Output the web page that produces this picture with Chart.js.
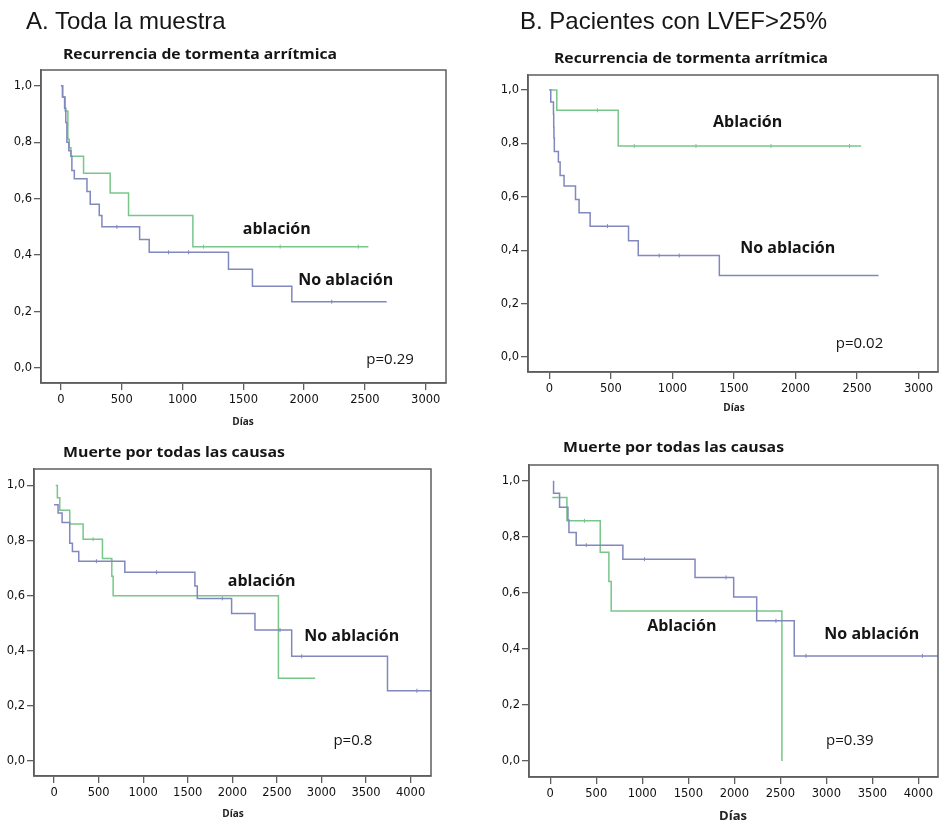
<!DOCTYPE html>
<html><head><meta charset="utf-8">
<script src="https://cdn.jsdelivr.net/npm/chart.js@4.4.1/dist/chart.umd.min.js"></script>
<style>
html,body{margin:0;padding:0;background:#fff;}
#page{position:relative;width:942px;height:822px;overflow:hidden;background:#fff;}
canvas.cv{position:absolute;}
svg#txt{position:absolute;left:0;top:0;pointer-events:none;}
</style></head><body>
<div id="page">
<canvas id="cA1" class="cv" width="471" height="360" style="left:0px;top:60px"></canvas>
<canvas id="cB1" class="cv" width="471" height="360" style="left:471px;top:60px"></canvas>
<canvas id="cA2" class="cv" width="471" height="392" style="left:0px;top:430px"></canvas>
<canvas id="cB2" class="cv" width="471" height="392" style="left:471px;top:430px"></canvas>
<svg id="txt" width="942" height="822" xmlns="http://www.w3.org/2000/svg">
  <g fill="#151515" font-family="'Liberation Sans', Arial, sans-serif" font-size="24">
    <text x="26" y="28.5">A. Toda la muestra</text>
    <text x="520" y="28.5">B. Pacientes con LVEF&gt;25%</text>
  </g>
  <g fill="#151515" font-family="'Open Sans', sans-serif" font-weight="700" font-size="14">
    <text x="63" y="59.3" textLength="274" lengthAdjust="spacingAndGlyphs">Recurrencia de tormenta arrítmica</text>
    <text x="554" y="62.7" textLength="274" lengthAdjust="spacingAndGlyphs">Recurrencia de tormenta arrítmica</text>
    <text x="63" y="457.3" textLength="222" lengthAdjust="spacingAndGlyphs">Muerte por todas las causas</text>
    <text x="563" y="451.7" textLength="221" lengthAdjust="spacingAndGlyphs">Muerte por todas las causas</text>
  </g>
  <g fill="#222" font-family="'Open Sans', sans-serif" font-weight="700" text-anchor="middle">
    <text x="243" y="424.5" font-size="10">Días</text>
    <text x="734" y="410.5" font-size="10">Días</text>
    <text x="233" y="816.5" font-size="10">Días</text>
    <text x="733" y="819.5" font-size="13">Días</text>
  </g>
</svg>
</div>
<script>
// ---------- axis ticks ----------
const yTicks = [0, 0.2, 0.4, 0.6, 0.8, 1.0];
const yTickLabels = ['0,0', '0,2', '0,4', '0,6', '0,8', '1,0'];
const xTicksRec = [0, 500, 1000, 1500, 2000, 2500, 3000];
const xTickLabelsRec = ['0', '500', '1000', '1500', '2000', '2500', '3000'];
const xTicksDeath = [0, 500, 1000, 1500, 2000, 2500, 3000, 3500, 4000];
const xTickLabelsDeath = ['0', '500', '1000', '1500', '2000', '2500', '3000', '3500', '4000'];

// ---------- A: whole sample, recurrence ----------
const a1AblDays = [0, 11, 35, 57, 68, 82, 186, 405, 556, 1085, 2529];
const a1AblSurv = [1.0, 0.96, 0.91, 0.81, 0.78, 0.75, 0.69, 0.62, 0.54, 0.43, 0.43];
const a1NoDays = [0, 15, 30, 40, 49, 65, 82, 90, 110, 214, 241, 315, 337, 647, 726, 1378, 1575, 1899, 2679];
const a1NoSurv = [1.0, 0.96, 0.92, 0.87, 0.80, 0.77, 0.75, 0.70, 0.67, 0.625, 0.58, 0.54, 0.50, 0.455, 0.41, 0.35, 0.29, 0.235, 0.235];
const a1AblCensDays = [1172, 1803, 2446];
const a1AblCensSurv = [0.43, 0.43, 0.43];
const a1NoCensDays = [460, 885, 1050, 2227];
const a1NoCensSurv = [0.50, 0.41, 0.41, 0.235];

// ---------- B: LVEF>25%, recurrence ----------
const b1AblDays = [0, 60, 559, 2533];
const b1AblSurv = [1.0, 0.924, 0.79, 0.79];
const b1NoDays = [0, 11, 33, 35, 37, 40, 73, 87, 119, 212, 241, 331, 643, 722, 1381, 2675];
const b1NoSurv = [1.0, 0.955, 0.91, 0.86, 0.82, 0.77, 0.73, 0.68, 0.64, 0.59, 0.54, 0.49, 0.435, 0.38, 0.305, 0.305];
const b1AblCensDays = [390, 689, 1191, 1801, 2439];
const b1AblCensSurv = [0.924, 0.79, 0.79, 0.79, 0.79];
const b1NoCensDays = [472, 892, 1055];
const b1NoCensSurv = [0.49, 0.38, 0.38];

// ---------- A: whole sample, all-cause death ----------
const a2AblDays = [19, 37, 64, 176, 326, 543, 648, 663, 2517, 2929];
const a2AblSurv = [1.0, 0.955, 0.91, 0.86, 0.805, 0.735, 0.67, 0.60, 0.30, 0.30];
const a2NoDays = [0, 45, 90, 176, 206, 277, 794, 1580, 1607, 1992, 2254, 2666, 3741, 4229];
const a2NoSurv = [0.93, 0.90, 0.865, 0.79, 0.76, 0.725, 0.685, 0.635, 0.59, 0.535, 0.475, 0.38, 0.255, 0.255];
const a2AblCensDays = [438];
const a2AblCensSurv = [0.805];
const a2NoCensDays = [475, 1150, 1888, 2535, 2779, 4071];
const a2NoCensSurv = [0.725, 0.685, 0.59, 0.475, 0.38, 0.255];

// ---------- B: LVEF>25%, all-cause death ----------
const b2AblDays = [22, 181, 543, 637, 662, 2517];
const b2AblSurv = [0.94, 0.857, 0.745, 0.64, 0.535, 0.0];
const b2NoDays = [36, 36, 101, 192, 203, 282, 789, 1573, 1993, 2243, 2651, 4213];
const b2NoSurv = [1.0, 0.955, 0.905, 0.86, 0.815, 0.77, 0.72, 0.655, 0.585, 0.50, 0.375, 0.375];
const b2AblCensDays = [372];
const b2AblCensSurv = [0.857];
const b2NoCensDays = [391, 1024, 1910, 2452, 2778, 4044];
const b2NoCensSurv = [0.77, 0.72, 0.655, 0.50, 0.375, 0.375];

// ---------- styling ----------
const GREEN = '#79c68a';
const BLUE = '#8088bd';
const AXIS = '#5e5e5e';
const TICKFONT = {family: "'DejaVu Sans', Verdana, sans-serif", size: 11.5};

const pts = (d, s) => d.map((v, i) => ({x: v, y: s[i]}));

const frameAndLabels = {
  id: 'frameAndLabels',
  afterDatasetsDraw(chart, args, opts) {
    const {ctx, chartArea: a, scales: {x, y}} = chart;
    ctx.save();
    ctx.strokeStyle = AXIS;
    ctx.lineWidth = 1.5;
    ctx.strokeRect(a.left, a.top, a.right - a.left, a.bottom - a.top);
    ctx.fillStyle = '#151515';
    ctx.textAlign = 'center';
    ctx.textBaseline = 'middle';
    (opts.items || []).forEach(it => {
      ctx.font = it.font;
      ctx.fillText(it.text, x.getPixelForValue(it.x), y.getPixelForValue(it.y));
    });
    ctx.restore();
  }
};

function makeChart(id, s) {
  const lineDs = (label, d, sv, col) => ({
    label, data: pts(d, sv), borderColor: col, borderWidth: 1.5,
    pointRadius: 0, stepped: true, fill: false, tension: 0
  });
  const censDs = (label, d, sv, col) => ({
    label, data: pts(d, sv), borderColor: col, backgroundColor: col, showLine: false,
    pointStyle: 'line', rotation: 90, pointRadius: 2, pointBorderWidth: 1, pointHoverRadius: 0
  });
  return new Chart(document.getElementById(id), {
    type: 'line',
    data: {
      datasets: [
        lineDs('No ablación', s.noD, s.noS, BLUE),
        lineDs('Ablación', s.abD, s.abS, GREEN),
        censDs('No ablación cens.', s.noCD, s.noCS, BLUE),
        censDs('Ablación cens.', s.abCD, s.abCS, GREEN)
      ]
    },
    options: {
      responsive: false,
      animation: false,
      devicePixelRatio: 1,
      layout: {padding: s.pad},
      plugins: {
        legend: {display: false},
        tooltip: {enabled: false},
        frameAndLabels: {items: s.labels}
      },
      scales: {
        x: {
          type: 'linear', min: s.xMin, max: s.xMax,
          afterBuildTicks: sc => { sc.ticks = s.xT.map(v => ({value: v})); },
          afterFit: sc => { sc.height = s.xH; },
          ticks: {autoSkip: false, maxRotation: 0, padding: 3, color: '#111', font: TICKFONT,
                  callback: (v, i) => s.xL[i]},
          grid: {display: true, drawOnChartArea: false, drawTicks: true, tickLength: 7, color: AXIS, lineWidth: 1.3},
          border: {display: true, color: AXIS, width: 1.5}
        },
        y: {
          type: 'linear', min: s.yMin, max: s.yMax,
          afterBuildTicks: sc => { sc.ticks = yTicks.map(v => ({value: v})); },
          afterFit: sc => { sc.width = s.yW; },
          ticks: {autoSkip: false, padding: 2, color: '#111', font: TICKFONT,
                  callback: (v, i) => yTickLabels[i]},
          grid: {display: true, drawOnChartArea: false, drawTicks: true, tickLength: 7, color: AXIS, lineWidth: 1.3},
          border: {display: true, color: AXIS, width: 1.5}
        }
      }
    },
    plugins: [frameAndLabels]
  });
}

const LBL = "700 16px 'Open Sans', sans-serif";
const PV = "400 15px 'Open Sans', sans-serif";

makeChart('cA1', {
  abD: a1AblDays, abS: a1AblSurv, noD: a1NoDays, noS: a1NoSurv,
  abCD: a1AblCensDays, abCS: a1AblCensSurv, noCD: a1NoCensDays, noCS: a1NoCensSurv,
  xMin: -164, xMax: 3167, yMin: -0.053, yMax: 1.0556,
  xT: xTicksRec, xL: xTickLabelsRec,
  pad: {top: 10, right: 25, left: 0, bottom: 0}, yW: 41, xH: 37,
  labels: [
    {text: 'ablación', x: 1775, y: 0.491, font: LBL},
    {text: 'No ablación', x: 2342, y: 0.312, font: LBL},
    {text: 'p=0.29', x: 2707, y: 0.031, font: PV}
  ]
});
makeChart('cB1', {
  abD: b1AblDays, abS: b1AblSurv, noD: b1NoDays, noS: b1NoSurv,
  abCD: b1AblCensDays, abCS: b1AblCensSurv, noCD: b1NoCensDays, noCS: b1NoCensSurv,
  xMin: -174, xMax: 3158, yMin: -0.056, yMax: 1.056,
  xT: xTicksRec, xL: xTickLabelsRec,
  pad: {top: 15, right: 4, left: 0, bottom: 0}, yW: 57, xH: 48,
  labels: [
    {text: 'Ablación', x: 1611, y: 0.879, font: LBL},
    {text: 'No ablación', x: 1937, y: 0.406, font: LBL},
    {text: 'p=0.02', x: 2520, y: 0.05, font: PV}
  ]
});
makeChart('cA2', {
  abD: a2AblDays, abS: a2AblSurv, noD: a2NoDays, noS: a2NoSurv,
  abCD: a2AblCensDays, abCS: a2AblCensSurv, noCD: a2NoCensDays, noCS: a2NoCensSurv,
  xMin: -225, xMax: 4229, yMin: -0.0545, yMax: 1.0596,
  xT: xTicksDeath, xL: xTickLabelsDeath,
  pad: {top: 39, right: 40, left: 0, bottom: 0}, yW: 34, xH: 46,
  labels: [
    {text: 'ablación', x: 2329, y: 0.651, font: LBL},
    {text: 'No ablación', x: 3340, y: 0.452, font: LBL},
    {text: 'p=0.8', x: 3352, y: 0.073, font: PV}
  ]
});
makeChart('cB2', {
  abD: b2AblDays, abS: b2AblSurv, noD: b2NoDays, noS: b2NoSurv,
  abCD: b2AblCensDays, abCS: b2AblCensSurv, noCD: b2NoCensDays, noCS: b2NoCensSurv,
  xMin: -231, xMax: 4213, yMin: -0.057, yMax: 1.056,
  xT: xTicksDeath, xL: xTickLabelsDeath,
  pad: {top: 35, right: 4, left: 0, bottom: 0}, yW: 58, xH: 45,
  labels: [
    {text: 'Ablación', x: 1429, y: 0.4816, font: LBL},
    {text: 'No ablación', x: 3494, y: 0.452, font: LBL},
    {text: 'p=0.39', x: 3255, y: 0.074, font: PV}
  ]
});
</script>
</body></html>
